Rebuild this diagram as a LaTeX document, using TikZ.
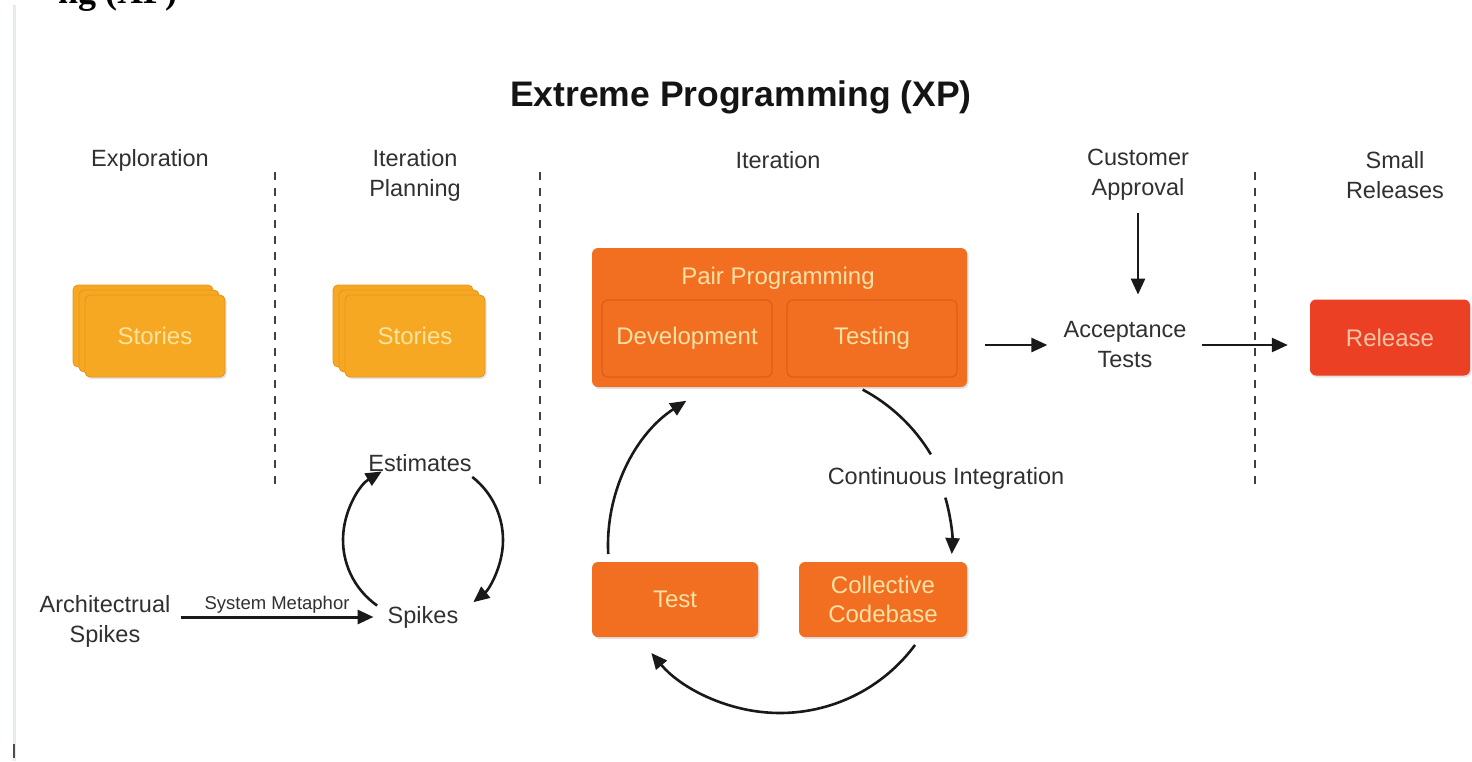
\documentclass[tikz,border=0pt]{standalone}
\usepackage{fontspec}
\setmainfont{Liberation Sans}
\newfontfamily\fragfont{Liberation Serif}
\usetikzlibrary{arrows.meta,shadows,calc}

\definecolor{txt}{HTML}{303030}
\definecolor{storyfill}{HTML}{F7A823}
\definecolor{storyedge}{HTML}{E8931A}
\definecolor{storytxt}{HTML}{FBE3A0}
\definecolor{orangefill}{HTML}{F26F21}
\definecolor{orangeedge}{HTML}{DE5E18}
\definecolor{orangetxt}{HTML}{FCE1A6}
\definecolor{releasefill}{HTML}{EB4024}
\definecolor{releasetxt}{HTML}{F9C4A6}
\definecolor{faint}{HTML}{E6EBEB}

\begin{document}
\begin{tikzpicture}[x=1pt,y=1pt,
  lbl/.style={text=txt, font=\fontsize{23.5}{30}\selectfont, align=center, inner sep=0pt},
  card/.style={fill=storyfill, draw=storyedge, line width=0.8pt, rounded corners=5pt,
               minimum width=140pt, minimum height=82pt, inner sep=0pt},
  shd/.style={drop shadow={opacity=0.22, shadow xshift=1.5pt, shadow yshift=-2pt}},
  obox/.style={fill=orangefill, rounded corners=6pt, inner sep=0pt},
  ibox/.style={fill=orangefill, draw=orangeedge, line width=1.2pt, rounded corners=6pt,
               minimum width=170pt, minimum height=77pt, inner sep=0pt},
  btxt/.style={text=orangetxt, font=\fontsize{24}{29}\selectfont, align=center},
  arr/.style={-{Triangle[length=16pt,width=14pt]}, line width=2.6pt, draw=black!90},
  sep/.style={dash pattern=on 8pt off 8pt, line width=2pt, draw=black!75}
]
\useasboundingbox (0,0) rectangle (1472,-761);

% scan artefacts
\draw[line width=3pt, faint] (14,-5) -- (14,-761);
\draw[line width=1.5pt, black!70] (14,-744) -- (14,-758);
\node[anchor=base west, inner sep=0pt, font=\fragfont\bfseries\fontsize{36}{36}\selectfont] (frag) at (58,-3) {ng (XP)};

% title
\node[inner sep=0pt, font=\bfseries\fontsize{35.5}{40}\selectfont, text=black!92] (title) at (741,-97) {Extreme Programming (XP)};

% phase headers
\node[lbl] (hexp) at (150,-160) {Exploration};
\node[lbl] (hplan) at (415,-175) {Iteration\\Planning};
\node[lbl] (hiter) at (778,-160) {Iteration};
\node[lbl] (hcust) at (1138,-175) {Customer\\Approval};
\node[lbl] (hrel) at (1395,-175) {Small\\Releases};

% separators
\draw[sep] (275,-172) -- (275,-490);
\draw[sep] (540,-172) -- (540,-490);
\draw[sep] (1255,-172) -- (1255,-490);

% stories cards
\node[card] (s1b) at (143,-326) {};
\node[card] (s1m) at (149,-331) {};
\node[card, shd, text=storytxt, font=\fontsize{24}{29}\selectfont] (s1) at (155,-336) {Stories};
\node[card] (s2b) at (403,-326) {};
\node[card] (s2m) at (409,-331) {};
\node[card, shd, text=storytxt, font=\fontsize{24}{29}\selectfont] (s2) at (415,-336) {Stories};

% pair programming
\node[obox, shd, minimum width=375pt, minimum height=139pt] (pair) at (779.5,-317.5) {};
\node[btxt, inner sep=0pt] (pairt) at (778,-278) {Pair Programming};
\node[ibox, btxt] (dev) at (687,-338.5) {Development};
\node[ibox, btxt] (tst) at (872,-338.5) {Testing};

% acceptance and release
\node[lbl] (acc) at (1125,-345) {Acceptance\\Tests};
\node[obox, shd, fill=releasefill, minimum width=160pt, minimum height=76pt, text=releasetxt,
      font=\fontsize{24}{29}\selectfont] (rel) at (1390,-337.5) {Release};

\draw[arr] (pair.east |- acc) ++(18,0) -- ([xshift=-16pt]acc.west);
\draw[arr] ([yshift=-12pt]hcust.south) -- ([xshift=13pt,yshift=27pt]acc.north);
\draw[arr] ([xshift=15pt]acc.east) -- ([xshift=-22pt]rel.west |- acc);

% planning loop
\node[lbl] (est) at (420,-463) {Estimates};
\node[lbl] (spk) at (423,-617) {Spikes};
\node[lbl] (arch) at (105,-621) {Architectrual\\Spikes};
\coordinate (loop) at (423,-540);
\draw[arr] (loop) ++(235:80) arc[start angle=235, end angle=121, radius=80];
\draw[arr] (loop) ++(52:80) arc[start angle=52, end angle=-51, radius=80];
\draw[arr, line width=3pt] (arch.east |- spk) ++(10,0) -- node[above=2pt, text=txt, font=\fontsize{18.5}{22}\selectfont, inner sep=0pt] (meta) {System Metaphor} ([xshift=-14pt]spk.west);

% iteration cycle
\node[obox, shd, minimum width=166pt, minimum height=75pt, btxt] (test) at (675,-599.5) {Test};
\node[obox, shd, minimum width=168pt, minimum height=75pt, btxt] (code) at (883,-599.5) {Collective\\Codebase};
\node[lbl] (ci) at (946,-478) {Continuous Integration};
\coordinate (cyc) at (780,-545);
\draw[arr] (cyc) ++(183:172) arc[start angle=183, end angle=123, radius=172];
\draw[line width=2.6pt, black!90] (cyc) ++(62:176) arc[start angle=62, end angle=31, radius=176];
\draw[arr] (cyc) ++(16:172) arc[start angle=16, end angle=-3, radius=172];
\draw[arr] (cyc) ++(-36.5:168) arc[start angle=-36.5, end angle=-140, radius=168];
\end{tikzpicture}
\end{document}
